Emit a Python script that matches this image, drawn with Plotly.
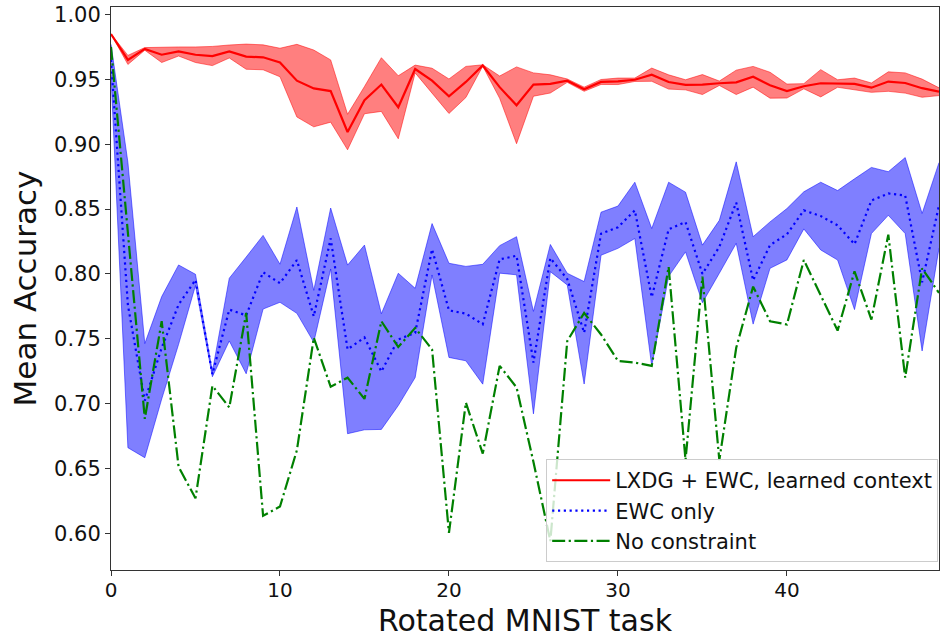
import plotly.graph_objects as go

tasks = list(range(50))

lxdg_mean = [0.985, 0.965, 0.9735, 0.969, 0.9715, 0.969, 0.968, 0.9715, 0.9675, 0.967,
             0.963, 0.949, 0.943, 0.941, 0.9094, 0.934, 0.946, 0.9285, 0.958, 0.949,
             0.937, 0.948, 0.9607, 0.944, 0.930, 0.946, 0.9465, 0.949, 0.9424, 0.948,
             0.9485, 0.9497, 0.9536, 0.948, 0.9458, 0.946, 0.947, 0.9477, 0.952, 0.9455,
             0.941, 0.9447, 0.947, 0.9468, 0.9465, 0.9436, 0.9483, 0.9472, 0.9432, 0.9405]
lxdg_std = [0.0, 0.0035, 0.001, 0.006, 0.0035, 0.006, 0.0074, 0.005, 0.0097, 0.0096,
            0.011, 0.028, 0.0296, 0.024, 0.0137, 0.0105, 0.0207, 0.0243, 0.003, 0.0096,
            0.0133, 0.012, 0.0005, 0.0086, 0.0296, 0.009, 0.007, 0.0013, 0.0016, 0.0019,
            0.0025, 0.0013, 0.0051, 0.0055, 0.0039, 0.0077, 0.0017, 0.0094, 0.008, 0.01,
            0.0054, 0.002, 0.0105, 0.0029, 0.0045, 0.0036, 0.0075, 0.0078, 0.007, 0.003]

ewc_mean = [0.965, 0.776, 0.7023, 0.743, 0.7763, 0.7954, 0.7227, 0.7725, 0.768, 0.8013,
            0.7928, 0.8106, 0.7673, 0.8273, 0.7418, 0.751, 0.7247, 0.7495, 0.7545, 0.819,
            0.7719, 0.7694, 0.7612, 0.8112, 0.814, 0.7316, 0.8122, 0.796, 0.7546, 0.831,
            0.836, 0.849, 0.782, 0.8344, 0.840, 0.800, 0.8209, 0.855, 0.795, 0.8222,
            0.8306, 0.849, 0.8446, 0.8375, 0.8229, 0.8566, 0.862, 0.8604, 0.7936, 0.8528]
ewc_std = [0.012, 0.11, 0.044, 0.0395, 0.0306, 0.0043, 0.002, 0.0242, 0.045, 0.0284,
           0.0147, 0.041, 0.02, 0.0235, 0.065, 0.0712, 0.0446, 0.051, 0.0344, 0.0198,
           0.0363, 0.0364, 0.0462, 0.0106, 0.0147, 0.0395, 0.0105, 0.0045, 0.0395, 0.0166,
           0.0163, 0.0217, 0.053, 0.0363, 0.023, 0.0222, 0.0204, 0.0314, 0.0337, 0.0179,
           0.0198, 0.0143, 0.0261, 0.0268, 0.0504, 0.0255, 0.0168, 0.0293, 0.053, 0.033]

noconst = [0.975, 0.83, 0.6883, 0.7635, 0.6513, 0.627, 0.7137, 0.697, 0.7699, 0.6135,
           0.6206, 0.664, 0.7508, 0.713, 0.720, 0.7036, 0.7635, 0.7436, 0.7584, 0.7418,
           0.6003, 0.7008, 0.6614, 0.7291, 0.7125, 0.655, 0.594, 0.7482, 0.7699, 0.7533,
           0.7329, 0.7316, 0.7291, 0.8055, 0.6564, 0.798, 0.6564, 0.743, 0.7902, 0.7635,
           0.761, 0.8107, 0.7839, 0.7563, 0.802, 0.7648, 0.8303, 0.72, 0.8043, 0.7853]

x_ticks = [0, 10, 20, 30, 40]
y_ticks = [0.60, 0.65, 0.70, 0.75, 0.80, 0.85, 0.90, 0.95, 1.00]

names = ["LXDG + EWC, learned context", "EWC only", "No constraint"]

FONT = "DejaVu Sans"

fig = go.Figure()


def band(mean, std, fillcol, edgecol):
    up = [m + s for m, s in zip(mean, std)]
    lo = [m - s for m, s in zip(mean, std)]
    fig.add_trace(go.Scatter(x=tasks, y=up, mode="lines",
                             line=dict(color=edgecol, width=1),
                             showlegend=False, hoverinfo="skip"))
    fig.add_trace(go.Scatter(x=tasks, y=lo, mode="lines", fill="tonexty",
                             fillcolor=fillcol,
                             line=dict(color=edgecol, width=1),
                             showlegend=False, hoverinfo="skip"))


band(lxdg_mean, lxdg_std, "rgba(255,0,0,0.5)", "rgba(255,0,0,0.5)")
fig.add_trace(go.Scatter(x=tasks, y=lxdg_mean, mode="lines", name=names[0],
                         legendgroup="a",
                         line=dict(color="#ff0000", width=2.2)))

band(ewc_mean, ewc_std, "rgba(0,0,255,0.5)", "rgba(0,0,255,0.5)")
fig.add_trace(go.Scatter(x=tasks, y=ewc_mean, mode="lines", name=names[1],
                         legendgroup="b",
                         line=dict(color="#0000ff", width=2.2, dash="2.2px,3.6px")))

fig.add_trace(go.Scatter(x=tasks, y=noconst, mode="lines", name=names[2],
                         legendgroup="c",
                         line=dict(color="#008000", width=2.2,
                                   dash="13px,3.5px,2.2px,3.5px")))

fig.update_layout(
    width=942, height=638,
    margin=dict(l=111, r=2, t=7, b=64),
    paper_bgcolor="white", plot_bgcolor="white",
    font=dict(family=FONT, size=21, color="#111"),
    legend=dict(x=0.999, y=0.014, xanchor="right", yanchor="bottom",
                bgcolor="rgba(255,255,255,0.8)", bordercolor="#cccccc", borderwidth=1,
                font=dict(family=FONT, size=21, color="#111"),
                itemwidth=58, tracegroupgap=0, traceorder="grouped"),
)

fig.update_xaxes(
    range=[0, 49], tickmode="array", tickvals=x_ticks,
    ticktext=[str(v) for v in x_ticks],
    showgrid=False, zeroline=False,
    showline=True, linecolor="#333", linewidth=1, mirror=True,
    ticks="outside", ticklen=5, tickcolor="#333",
    ticklabelstandoff=-3,
    tickfont=dict(family=FONT, size=20),
    title=dict(text="Rotated MNIST task", font=dict(family=FONT, size=30), standoff=13),
)
fig.update_yaxes(
    range=[0.5717, 1.0058], tickmode="array", tickvals=y_ticks,
    ticktext=["%.2f" % v for v in y_ticks],
    showgrid=False, zeroline=False,
    showline=True, linecolor="#333", linewidth=1, mirror=True,
    ticks="outside", ticklen=5, tickcolor="#333",
    tickfont=dict(family=FONT, size=21),
    title=dict(text="Mean Accuracy", font=dict(family=FONT, size=31), standoff=8),
)

fig.write_html("out.html")
